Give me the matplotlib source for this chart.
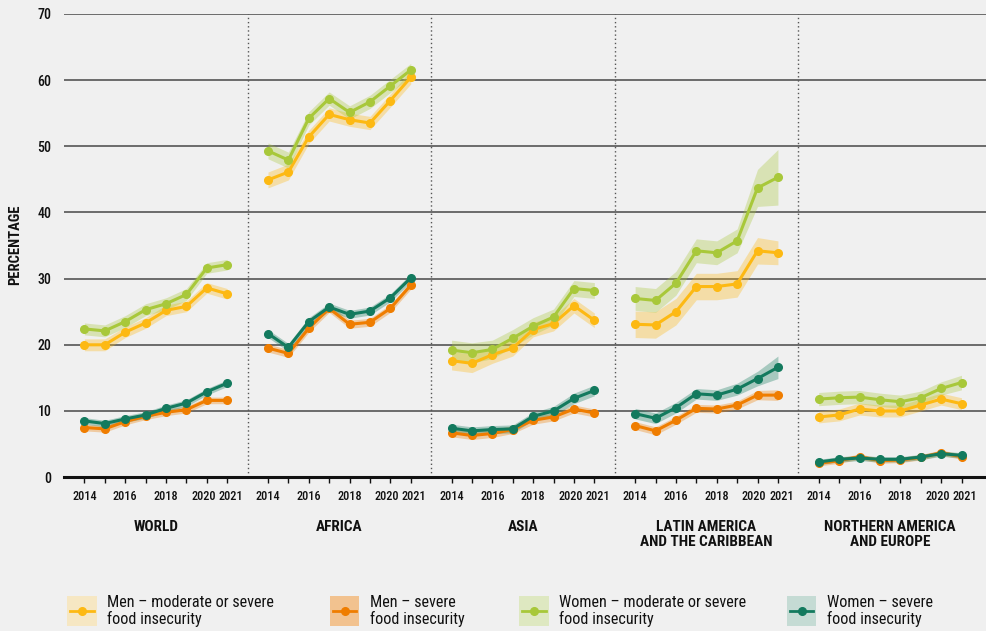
import matplotlib
matplotlib.use("Agg")
import matplotlib.pyplot as plt
from matplotlib.patches import Rectangle
from matplotlib.lines import Line2D
from matplotlib import font_manager as fm
from matplotlib.transforms import ScaledTranslation

years = [2014, 2015, 2016, 2017, 2018, 2019, 2020, 2021]
labeled_years = [2014, 2016, 2018, 2020, 2021]
regions = ["WORLD", "AFRICA", "ASIA", "LATIN AMERICA\nAND THE CARIBBEAN", "NORTHERN AMERICA\nAND EUROPE"]
series_names = ["Men \u2013 moderate or severe\nfood insecurity",
                "Men \u2013 severe\nfood insecurity",
                "Women \u2013 moderate or severe\nfood insecurity",
                "Women \u2013 severe\nfood insecurity"]

# values per region (World, Africa, Asia, LAC, NAE)
men_mod = [
    [20.0, 20.0, 21.9, 23.3, 25.2, 25.8, 28.6, 27.7],
    [44.9, 46.1, 51.4, 54.8, 54.0, 53.5, 56.9, 60.4],
    [17.6, 17.2, 18.5, 19.5, 22.3, 23.2, 25.9, 23.7],
    [23.1, 23.0, 25.0, 28.8, 28.8, 29.2, 34.2, 33.9],
    [9.1, 9.4, 10.3, 10.0, 10.0, 10.9, 11.8, 11.1],
]
men_sev = [
    [7.5, 7.3, 8.4, 9.2, 9.8, 10.2, 11.6, 11.6],
    [19.5, 18.7, 22.5, 25.5, 23.1, 23.4, 25.5, 29.0],
    [6.7, 6.3, 6.6, 7.2, 8.6, 9.1, 10.3, 9.7],
    [7.8, 7.0, 8.6, 10.4, 10.3, 10.9, 12.4, 12.4],
    [2.1, 2.5, 3.1, 2.5, 2.6, 3.0, 3.7, 3.1],
]
women_mod = [
    [22.4, 22.1, 23.5, 25.3, 26.2, 27.6, 31.6, 32.1],
    [49.3, 47.9, 54.2, 57.2, 55.1, 56.7, 59.1, 61.5],
    [19.2, 18.8, 19.3, 21.0, 22.8, 24.2, 28.5, 28.2],
    [27.0, 26.7, 29.3, 34.2, 33.9, 35.7, 43.7, 45.3],
    [11.8, 12.0, 12.1, 11.7, 11.4, 12.0, 13.4, 14.3],
]
women_sev = [
    [8.5, 8.1, 8.8, 9.4, 10.4, 11.2, 12.9, 14.2],
    [21.7, 19.6, 23.5, 25.7, 24.6, 25.1, 27.1, 30.1],
    [7.4, 7.0, 7.2, 7.3, 9.2, 10.0, 11.9, 13.1],
    [9.6, 8.9, 10.5, 12.6, 12.4, 13.3, 14.9, 16.6],
    [2.3, 2.7, 2.9, 2.7, 2.7, 3.05, 3.55, 3.3],
]
# half-widths of the confidence bands
men_mod_h = [
    [0.9, 0.9, 0.8, 0.8, 0.8, 0.8, 0.8, 0.8],
    [1.2, 1.2, 1.0, 1.0, 1.0, 1.0, 1.0, 1.0],
    [1.4, 1.4, 1.3, 1.2, 1.1, 1.1, 1.1, 1.1],
    [2.0, 2.0, 2.0, 2.0, 2.0, 2.0, 2.0, 1.8],
    [0.9, 0.9, 0.9, 0.9, 0.9, 0.9, 0.9, 0.9],
]
men_sev_h = [
    [0.5, 0.5, 0.5, 0.5, 0.5, 0.5, 0.5, 0.5],
    [0.6, 0.6, 0.6, 0.6, 0.6, 0.6, 0.6, 0.6],
    [0.6, 0.6, 0.6, 0.6, 0.6, 0.6, 0.6, 0.6],
    [0.6, 0.6, 0.6, 0.6, 0.6, 0.6, 0.7, 0.8],
    [0.4, 0.4, 0.4, 0.4, 0.4, 0.4, 0.4, 0.4],
]
women_mod_h = [
    [0.9, 0.9, 0.9, 0.9, 0.9, 0.9, 0.8, 0.8],
    [1.2, 1.2, 1.0, 1.0, 1.0, 1.0, 1.0, 1.0],
    [1.5, 1.5, 1.4, 1.3, 1.3, 1.2, 1.2, 1.2],
    [1.8, 1.8, 1.8, 1.8, 1.8, 1.8, 2.8, 4.2],
    [1.0, 1.0, 1.0, 1.0, 1.0, 1.0, 1.0, 1.1],
]
women_sev_h = [
    [0.5, 0.5, 0.5, 0.5, 0.5, 0.5, 0.5, 0.5],
    [0.6, 0.6, 0.6, 0.6, 0.6, 0.6, 0.6, 0.6],
    [0.6, 0.6, 0.6, 0.6, 0.6, 0.7, 0.8, 0.8],
    [0.8, 0.8, 0.8, 0.8, 0.8, 0.9, 1.1, 1.7],
    [0.4, 0.4, 0.4, 0.4, 0.4, 0.4, 0.4, 0.4],
]

# ---- pick a condensed font if one is installed ----
avail = fm.fontManager.ttflist
names = {f.name for f in avail}
family, stretch, scale = None, "normal", 1.0
for cand in ["Roboto Condensed", "Liberation Sans Narrow", "Open Sans Condensed",
             "Noto Sans Condensed", "DejaVu Sans Condensed", "Arial Narrow"]:
    if cand in names:
        family = cand
        break
if family is None:
    for f in avail:
        st = f.stretch
        cond = (isinstance(st, str) and "condensed" in st.lower()) or (isinstance(st, (int, float)) and st < 500)
        if cond and f.name in ("Noto Sans", "Roboto", "Open Sans", "DejaVu Sans", "Inter", "Lato"):
            family, stretch = f.name, "condensed"
            break
if family is None:
    family, scale = "Roboto", 0.9
plt.rcParams['font.family'] = [family, 'DejaVu Sans']
plt.rcParams['font.stretch'] = stretch

line_colors = ["#FDB913", "#EF7D00", "#A8C83A", "#137A5E"]
patch_colors = ["#F6E7C3", "#F2C28F", "#DEE8C1", "#C5DBD4"]
bg = "#F0F0F0"

values = [men_mod, men_sev, women_mod, women_sev]
halfs = [men_mod_h, men_sev_h, women_mod_h, women_sev_h]
GAP = 9  # panel spacing in year-units

fig = plt.figure(figsize=(9.87, 6.31), dpi=100, facecolor=bg)
ax = fig.add_axes([64 / 987, 1 - 477.2 / 631, 1 - 64 / 987, (477.2 - 13.8) / 631])
ax.set_facecolor(bg)
ax.set_xlim(-1, 44.25)
ax.set_ylim(0, 70)

for y in range(10, 71, 10):
    ax.axhline(y, color="#555555", lw=1.2, zorder=1)
ax.axhline(0, color="#111111", lw=2.2, zorder=6, clip_on=False)

for p in range(len(regions) - 1):
    ax.axvline(p * GAP + 8, color="#555555", lw=1.0, ls=(0, (1, 2)), zorder=1)

order = [0, 2, 1, 3]
for p in range(len(regions)):
    xs = [p * GAP + (yr - years[0]) for yr in years]
    for s in order:
        v = values[s][p]
        h = halfs[s][p]
        ax.fill_between(xs, [a - b for a, b in zip(v, h)], [a + b for a, b in zip(v, h)],
                        color=line_colors[s], alpha=0.33, lw=0, zorder=2)
    for s in order:
        ax.plot(xs, values[s][p], color=line_colors[s], lw=2.2, marker="o", ms=5.5,
                zorder=4 + s * 0.1, solid_capstyle="round")

# ticks
tick_pos, tick_lab = [], []
for p in range(len(regions)):
    for yr in years:
        tick_pos.append(p * GAP + (yr - years[0]))
        tick_lab.append(str(yr) if yr in labeled_years else "")
ax.set_xticks(tick_pos)
ax.set_xticklabels(tick_lab, fontsize=8.8 * scale, color="#111111", fontweight="medium")
ax.tick_params(axis="x", direction="out", length=4, width=1, color="#111111", pad=5)
for lab in ax.get_xticklabels():
    if lab.get_text() == "2020":
        lab.set_transform(lab.get_transform() + ScaledTranslation(-3.5 / 100, 0, fig.dpi_scale_trans))
    elif lab.get_text() == "2021":
        lab.set_transform(lab.get_transform() + ScaledTranslation(3.5 / 100, 0, fig.dpi_scale_trans))
ax.set_yticks(range(0, 71, 10))
ax.set_yticklabels([str(v) for v in range(0, 71, 10)], fontsize=10 * scale, color="#111111",
                   fontweight="medium")
ax.tick_params(axis="y", length=0, pad=9)
for sp in ax.spines.values():
    sp.set_visible(False)

fig.text(15 / 987, 1 - 245 / 631, "PERCENTAGE", rotation=90, ha="center", va="center",
         fontsize=10.5 * scale, fontweight="bold", color="#111111")

for p, name in enumerate(regions):
    cx = p * GAP + 3.5
    ax.text(cx, -6.4, name, ha="center", va="top", fontsize=11 * scale, fontweight="bold",
            color="#111111", linespacing=1.15, clip_on=False)

# legend
leg_x = [67, 330, 519, 787]
for i in range(4):
    x0 = leg_x[i] / 987
    fig.patches.append(Rectangle((x0, 1 - 626 / 631), 29.5 / 987, 30 / 631,
                                 transform=fig.transFigure, facecolor=patch_colors[i],
                                 edgecolor="none"))
    yl = 1 - 611 / 631
    fig.lines.append(Line2D([x0 + 3 / 987, x0 + 26.5 / 987], [yl, yl], transform=fig.transFigure,
                            color=line_colors[i], lw=2, marker=None))
    fig.lines.append(Line2D([x0 + 14.75 / 987], [yl], transform=fig.transFigure,
                            color=line_colors[i], marker="o", ms=5.5, lw=0))
    fig.text((leg_x[i] + 40) / 987, 1 - 611 / 631, series_names[i], ha="left", va="center",
             fontsize=11.6 * scale, color="#111111", linespacing=1.1)

fig.savefig("out.png", dpi=100, facecolor=bg)
